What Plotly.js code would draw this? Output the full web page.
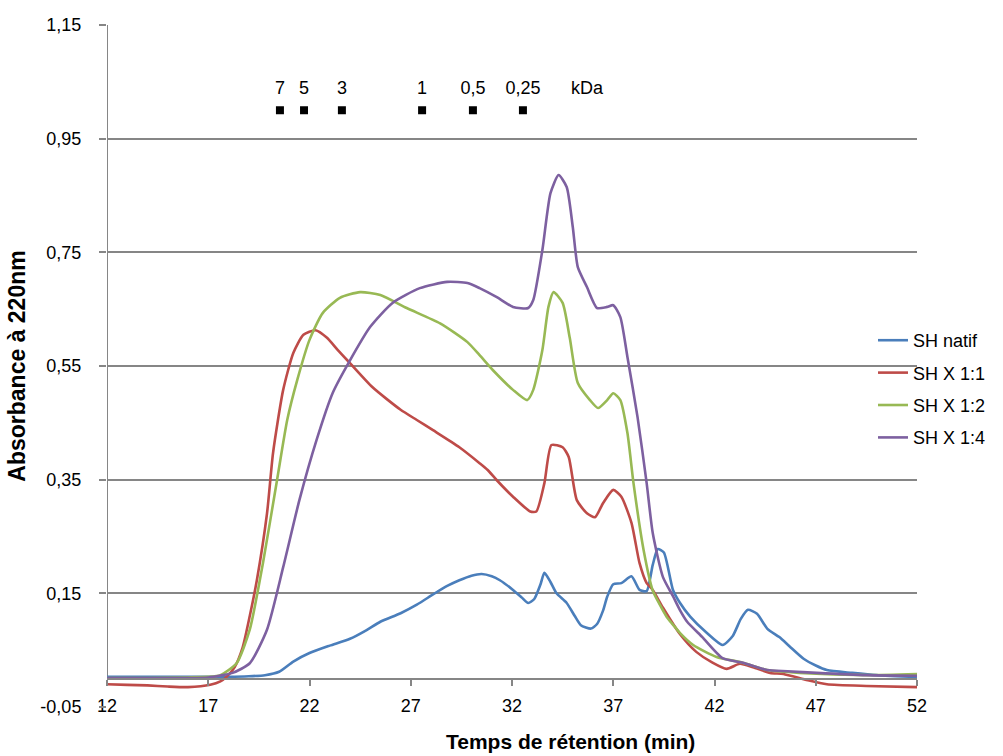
<!DOCTYPE html>
<html>
<head>
<meta charset="utf-8">
<script src="https://cdn.plot.ly/plotly-3.0.1.min.js"></script>
<style>html,body{margin:0;padding:0;background:#fff;}#chart{width:1003px;height:756px;}</style>
</head>
<body>
<div id="chart"></div>
<script>
// ---- data ----
const seriesNames = ['SH natif', 'SH X 1:1', 'SH X 1:2', 'SH X 1:4'];
const seriesColors = ['#4a7ebb', '#be4b48', '#98b954', '#7d60a0'];

const natifX = [12, 14, 16, 18, 19, 19.8, 20.5, 21.2, 22.0, 23.0, 24.0, 24.8, 25.5, 26.5, 27.3, 28.1, 28.8, 29.4, 30.0, 30.5, 31.0, 31.4, 32.05, 32.5, 32.8, 33.1, 33.4, 33.6, 33.9, 34.2, 34.7, 35.1, 35.4, 35.9, 36.2, 36.5, 36.7, 37.0, 37.4, 37.9, 38.3, 38.65, 38.95, 39.2, 39.5, 39.95, 40.3, 40.8, 41.6, 42.4, 42.9, 43.3, 43.65, 44.1, 44.6, 45.2, 45.7, 46.4, 47.0, 47.55, 48.8, 50, 52];
const natifY = [0.003, 0.003, 0.003, 0.003, 0.004, 0.006, 0.012, 0.03, 0.045, 0.058, 0.07, 0.085, 0.10, 0.115, 0.13, 0.148, 0.163, 0.173, 0.181, 0.184, 0.18, 0.173, 0.156, 0.142, 0.133, 0.14, 0.165, 0.186, 0.17, 0.15, 0.133, 0.11, 0.094, 0.088, 0.096, 0.12, 0.144, 0.166, 0.168, 0.18, 0.156, 0.154, 0.20, 0.228, 0.222, 0.156, 0.133, 0.109, 0.081, 0.059, 0.075, 0.105, 0.121, 0.114, 0.088, 0.073, 0.057, 0.035, 0.023, 0.015, 0.01, 0.006, 0.003];

const x11X = [12, 13, 14, 15, 16, 17.1, 17.6, 17.9, 18.3, 18.7, 19.05, 19.4, 19.9, 20.2, 20.7, 21.2, 21.7, 22.3, 22.85, 23.4, 24.0, 25.1, 26.5, 27.3, 28.1, 29.4, 30.4, 30.8, 31.25, 32.05, 32.9, 33.2, 33.6, 33.95, 34.5, 34.8, 35.2, 35.7, 36.1, 36.5, 37.0, 37.4, 37.9, 38.3, 38.65, 38.95, 39.45, 40.3, 41.1, 41.9, 42.6, 43.25, 43.9, 44.75, 45.4, 46.6, 47.55, 49.5, 52];
const x11Y = [-0.01, -0.011, -0.012, -0.014, -0.015, -0.011, -0.005, 0.003, 0.02, 0.055, 0.11, 0.173, 0.29, 0.397, 0.508, 0.573, 0.605, 0.613, 0.6, 0.578, 0.555, 0.513, 0.473, 0.455, 0.437, 0.407, 0.379, 0.367, 0.349, 0.32, 0.294, 0.294, 0.344, 0.411, 0.407, 0.39, 0.314, 0.291, 0.284, 0.309, 0.332, 0.32, 0.274, 0.203, 0.168, 0.156, 0.125, 0.078, 0.047, 0.028, 0.017, 0.026, 0.02, 0.01, 0.008, -0.003, -0.01, -0.013, -0.015];

const x12X = [12, 14, 16, 17, 17.6, 18.4, 19.05, 19.7, 20.4, 20.9, 21.4, 22.0, 22.65, 23.5, 24.5, 25.5, 26.8, 28.45, 29.8, 30.4, 31.05, 32.05, 32.75, 33.05, 33.5, 33.8, 34.05, 34.5, 34.85, 35.25, 35.85, 36.25, 36.7, 37.0, 37.35, 37.7, 38.0, 38.5, 38.95, 39.3, 39.65, 39.95, 40.3, 40.95, 42.1, 43.4, 44.6, 46.2, 49.5, 52];
const x12Y = [0.001, 0.001, 0.002, 0.003, 0.006, 0.027, 0.086, 0.203, 0.35, 0.455, 0.526, 0.596, 0.643, 0.67, 0.68, 0.675, 0.652, 0.625, 0.592, 0.569, 0.543, 0.508, 0.49, 0.508, 0.578, 0.654, 0.68, 0.661, 0.6, 0.52, 0.49, 0.476, 0.49, 0.502, 0.49, 0.432, 0.344, 0.226, 0.155, 0.13, 0.108, 0.095, 0.08, 0.059, 0.038, 0.028, 0.015, 0.01, 0.006, 0.008];

const x14X = [12, 14, 16, 17, 18.2, 19.05, 19.9, 20.7, 21.5, 22.35, 23.15, 24.0, 25.0, 26.1, 27.45, 28.8, 29.8, 30.4, 31.25, 32.05, 32.8, 33.05, 33.5, 33.9, 34.3, 34.7, 35.0, 35.25, 35.7, 36.2, 36.7, 37.0, 37.35, 37.7, 38.2, 38.65, 38.95, 39.45, 39.95, 40.3, 40.65, 41.4, 42.4, 43.4, 44.6, 45.6, 47.05, 49.5, 52];
const x14Y = [0.001, 0.001, 0.001, 0.002, 0.01, 0.027, 0.086, 0.196, 0.314, 0.42, 0.503, 0.56, 0.619, 0.661, 0.687, 0.698, 0.696, 0.687, 0.671, 0.654, 0.652, 0.666, 0.754, 0.854, 0.886, 0.865, 0.795, 0.724, 0.689, 0.652, 0.654, 0.657, 0.636, 0.566, 0.46, 0.344, 0.256, 0.179, 0.145, 0.12, 0.1, 0.073, 0.036, 0.028, 0.015, 0.013, 0.01, 0.006, 0.005];

// molecular-weight standards (kDa) shown at the top
const standardX = [20.54, 21.73, 23.60, 27.56, 30.07, 32.54];
const standardLabels = ['7', '5', '3', '1', '0,5', '0,25'];
const standardLevel = [1.0, 1.0, 1.0, 1.0, 1.0, 1.0];
const unitLabelX = [35.7];
const unitLabel = ['kDa'];

const xTickVals = [12, 17, 22, 27, 32, 37, 42, 47, 52];
const yTickVals = [-0.05, 0.15, 0.35, 0.55, 0.75, 0.95, 1.15];
const yTickText = ['-0,05', '0,15', '0,35', '0,55', '0,75', '0,95', '1,15'];

// ---- figure ----
const FONT = 'Liberation Sans, Arial, sans-serif';
const GRID = '#868686';
const xs = [natifX, x11X, x12X, x14X];
const ys = [natifY, x11Y, x12Y, x14Y];

const traces = seriesNames.map((n, i) => ({
  type: 'scatter', mode: 'lines', name: n, legendgroup: 'g' + i,
  x: xs[i], y: ys[i],
  line: {color: seriesColors[i], width: 2.6, shape: 'spline', smoothing: 0.6},
  hoverinfo: 'x+y+name'
}));

traces.push({
  type: 'scatter', mode: 'markers', x: standardX, y: standardLevel,
  marker: {symbol: 'square', size: 8, color: '#000'},
  showlegend: false, hoverinfo: 'skip'
});
traces.push({
  type: 'scatter', mode: 'text', x: standardX, y: standardLevel.map(v => v + 0.036),
  text: standardLabels, textposition: 'middle center',
  textfont: {family: FONT, size: 18, color: '#000'},
  showlegend: false, hoverinfo: 'skip'
});
traces.push({
  type: 'scatter', mode: 'text', x: unitLabelX, y: [1.036],
  text: unitLabel, textposition: 'middle center',
  textfont: {family: FONT, size: 18, color: '#000'},
  showlegend: false, hoverinfo: 'skip'
});

const layout = {
  width: 1003, height: 756,
  margin: {l: 107, r: 86, t: 25, b: 49},
  paper_bgcolor: '#fff', plot_bgcolor: '#fff',
  font: {family: FONT, size: 18, color: '#000'},
  showlegend: true,
  legend: {x: 0.9457, xanchor: 'left', y: 0.5645, yanchor: 'top',
           bgcolor: 'rgba(0,0,0,0)', font: {family: FONT, size: 18, color: '#000'},
           itemwidth: 30, tracegroupgap: 6},
  xaxis: {
    range: [12, 52], tickvals: xTickVals, ticktext: xTickVals.map(String),
    showgrid: false, zeroline: false,
    anchor: 'free', position: 0.05 / 1.2,
    showline: true, linecolor: GRID, linewidth: 2,
    ticks: 'outside', ticklen: 6, tickwidth: 2, tickcolor: GRID,
    ticklabelstandoff: 5,
    tickfont: {family: FONT, size: 18, color: '#000'}
  },
  yaxis: {
    range: [-0.05, 1.15], tickvals: yTickVals, ticktext: yTickText,
    showgrid: true, gridcolor: GRID, gridwidth: 2, zeroline: false,
    showline: false,
    ticks: 'outside', ticklen: 7, tickwidth: 2, tickcolor: GRID,
    ticklabelstandoff: 14,
    tickfont: {family: FONT, size: 18, color: '#000'},
    title: {text: 'Absorbance à 220nm', font: {family: FONT, size: 23, color: '#000', weight: 'bold'}, standoff: 8}
  },
  shapes: [
    {type: 'line', xref: 'x', yref: 'y', x0: 12, x1: 12, y0: 0, y1: 1.15,
     line: {color: GRID, width: 2}, layer: 'below'}
  ],
  annotations: [
    {text: '<b>Temps de rétention (min)</b>', xref: 'paper', yref: 'paper',
     x: (570 - 107) / 810, y: (707 - 741) / 682, xanchor: 'center', yanchor: 'middle',
     showarrow: false, font: {family: FONT, size: 21, color: '#000'}}
  ]
};

Plotly.newPlot('chart', traces, layout, {displayModeBar: false, staticPlot: false});
</script>
</body>
</html>
